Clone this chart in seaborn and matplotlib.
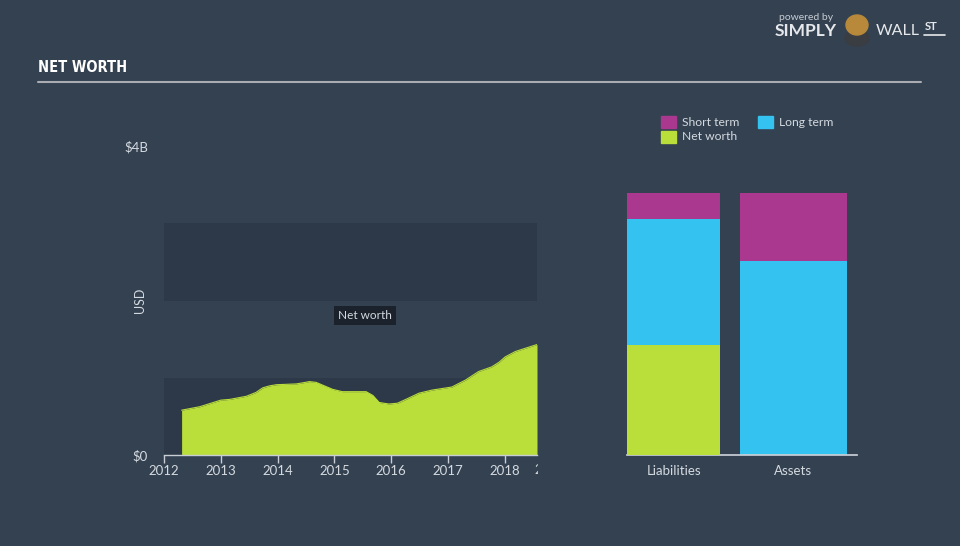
import matplotlib
matplotlib.use("Agg")
import matplotlib.pyplot as plt
import seaborn as sns
import numpy as np
import pandas as pd
from matplotlib.transforms import Bbox
from matplotlib.patches import Ellipse

# ---- data ----
years = [2012.31, 2012.63, 2013.0, 2013.16, 2013.45, 2013.62, 2013.74, 2013.86, 2013.98, 2014.33,
         2014.45, 2014.56, 2014.68, 2014.97, 2015.14, 2015.56, 2015.68, 2015.79, 2015.96, 2016.11,
         2016.26, 2016.49, 2016.72, 2017.07, 2017.31, 2017.54, 2017.77, 2017.90, 2018.01, 2018.19,
         2018.40, 2018.57]
net_worth = [0.58, 0.625, 0.71, 0.72, 0.76, 0.81, 0.87, 0.895, 0.91, 0.92,
             0.935, 0.95, 0.94, 0.85, 0.82, 0.82, 0.77, 0.68, 0.66, 0.67,
             0.72, 0.80, 0.84, 0.88, 0.97, 1.08, 1.14, 1.20, 1.27, 1.34,
             1.39, 1.43]
bar_categories = ["Liabilities", "Assets"]
short_term = [0.345, 0.88]
long_term = [1.62, 2.51]
net_worth_bar = [1.43, 0.0]
year_ticks = [2012, 2013, 2014, 2015, 2016, 2017, 2018]
y_ticks = [0, 4]
y_tick_labels = ["$0", "$4B"]

BG = "#334151"
BAND = "#2d3948"
GREEN = "#bade3a"
BLUE = "#34c3f0"
MAGENTA = "#a9388e"
TXT = "#d5dae0"

sns.set_theme(style="dark")
plt.rcParams['font.family'] = ['Lato', 'DejaVu Sans']

fig = plt.figure(figsize=(9.6, 5.46), dpi=100, facecolor=BG)

# ---- left area chart ----
W, H = 960, 546
ax = fig.add_axes([164 / W, (H - 455) / H, (537 - 164) / W, (455 - 146) / H])
ax.set_facecolor("none")
ax.set_xlim(2012, 2018.57)
ax.set_ylim(0, 4)
ax.axhspan(0, 1, color=BAND, lw=0, zorder=0)
ax.axhspan(2, 3, color=BAND, lw=0, zorder=0)

df = pd.DataFrame({"year": years, "value": net_worth})
sns.lineplot(data=df, x="year", y="value", ax=ax, color=GREEN, lw=0.8, zorder=3)
ax.fill_between(df["year"], 0, df["value"], color=GREEN, lw=0, zorder=2)

for s in ["top", "right", "left"]:
    ax.spines[s].set_visible(False)
ax.spines["bottom"].set_color("#c9ced6")
ax.spines["bottom"].set_linewidth(1)
ax.set_xticks(year_ticks)
ax.set_xticklabels([str(y) for y in year_ticks])
ax.tick_params(axis="x", colors="#c9ced6", labelcolor=TXT, labelsize=9.5,
               length=6, width=1, direction="out", bottom=True, pad=1)
ax.set_yticks(y_ticks)
ax.set_yticklabels(y_tick_labels)
ax.tick_params(axis="y", labelcolor=TXT, labelsize=9.5, length=0, pad=11.5)
ax.set_xlabel("")
ax.set_ylabel("USD", color=TXT, fontsize=9, labelpad=0)
ax.yaxis.set_label_coords(-0.048, 0.5)
ax.grid(False)

# clipped fragment of the next year label at the right edge
frag = fig.text(534 / W, (H - 470) / H, "2019", color=TXT, fontsize=9.5, ha="left", va="center")
frag.set_clip_box(Bbox.from_extents(0, 0, 538, H))
frag.set_clip_on(True)

# tooltip
ax.text(2015.54, 1.81, "Net worth", color=TXT, fontsize=8.5, ha="center", va="center",
        zorder=5, bbox=dict(boxstyle="square,pad=0.35", fc="#1b222c", ec="none"))

# ---- right stacked bars ----
bx = fig.add_axes([627 / W, (H - 455) / H, (857 - 627) / W, (455 - 146) / H])
bx.set_facecolor("none")
bdf = pd.DataFrame({"cat": bar_categories, "st": short_term, "lt": long_term, "nw": net_worth_bar})
bdf["top"] = bdf["st"] + bdf["lt"] + bdf["nw"]
bdf["mid"] = bdf["lt"] + bdf["nw"]
widths = {"Liabilities": 0.775, "Assets": 0.89}
for cat in bar_categories:
    sub = bdf[bdf["cat"] == cat]
    w = widths[cat]
    sns.barplot(data=sub, x="cat", y="top", order=bar_categories, color=MAGENTA,
                width=w, ax=bx, saturation=1, linewidth=0, zorder=1)
    sns.barplot(data=sub, x="cat", y="mid", order=bar_categories, color=BLUE,
                width=w, ax=bx, saturation=1, linewidth=0, zorder=2)
    sns.barplot(data=sub, x="cat", y="nw", order=bar_categories, color=GREEN,
                width=w, ax=bx, saturation=1, linewidth=0, zorder=3)
bx.set_xlim(-0.389, 1.53)
bx.set_ylim(0, 4)
for s in ["top", "right", "left"]:
    bx.spines[s].set_visible(False)
bx.spines["bottom"].set_color("#c9ced6")
bx.set_yticks([])
bx.set_xlabel("")
bx.set_ylabel("")
bx.tick_params(axis="x", labelcolor=TXT, labelsize=9.5, length=0, pad=7)
bx.grid(False)

# legend
def swatch(x, y, c):
    fig.patches.append(plt.Rectangle((x / W, (H - y - 12) / H), 15 / W, 12 / H,
                                     transform=fig.transFigure, color=c, figure=fig))
swatch(661, 116, MAGENTA)
swatch(758, 116, BLUE)
swatch(661, 131, GREEN)
fig.text(682 / W, (H - 122) / H, "Short term", color=TXT, fontsize=8.7, va="center")
fig.text(779 / W, (H - 122) / H, "Long term", color=TXT, fontsize=8.7, va="center")
fig.text(682 / W, (H - 137) / H, "Net worth", color=TXT, fontsize=8.7, va="center")

# title and rule
fig.text(38 / W, (H - 68) / H, "NET WORTH", color="white", fontsize=10.5, fontweight="bold",
         fontstretch="condensed", va="center", family=["DejaVu Sans"])
fig.add_artist(plt.Line2D([38 / W, 921 / W], [(H - 82) / H, (H - 82) / H],
                          color="#a9adb3", lw=1.5, transform=fig.transFigure))

# logo
fig.text(806 / W, (H - 17) / H, "powered by", color="#c8ccd2", fontsize=7.5, ha="center", va="center")
fig.text(775 / W, (H - 31) / H, "SIMPLY", color="#e6e8eb", fontsize=12.5, fontweight="bold", va="center")
fig.text(876 / W, (H - 31) / H, "WALL", color="#e6e8eb", fontsize=11.5, fontweight="normal", va="center")
fig.text(925 / W, (H - 27) / H, "ST", color="#e6e8eb", fontsize=8, fontweight="bold", va="center")
fig.add_artist(plt.Line2D([924 / W, 945 / W], [(H - 35) / H, (H - 35) / H],
                          color="#e6e8eb", lw=1.2, transform=fig.transFigure))
fig.patches.append(Ellipse((857 / W, (H - 38) / H), 24 / W, 16 / H, transform=fig.transFigure,
                           color="#3a3d42", figure=fig))
fig.patches.append(Ellipse((857 / W, (H - 25) / H), 22 / W, 20 / H, transform=fig.transFigure,
                           color="#b8893a", figure=fig))

fig.savefig("out.png", dpi=100, facecolor=BG)
